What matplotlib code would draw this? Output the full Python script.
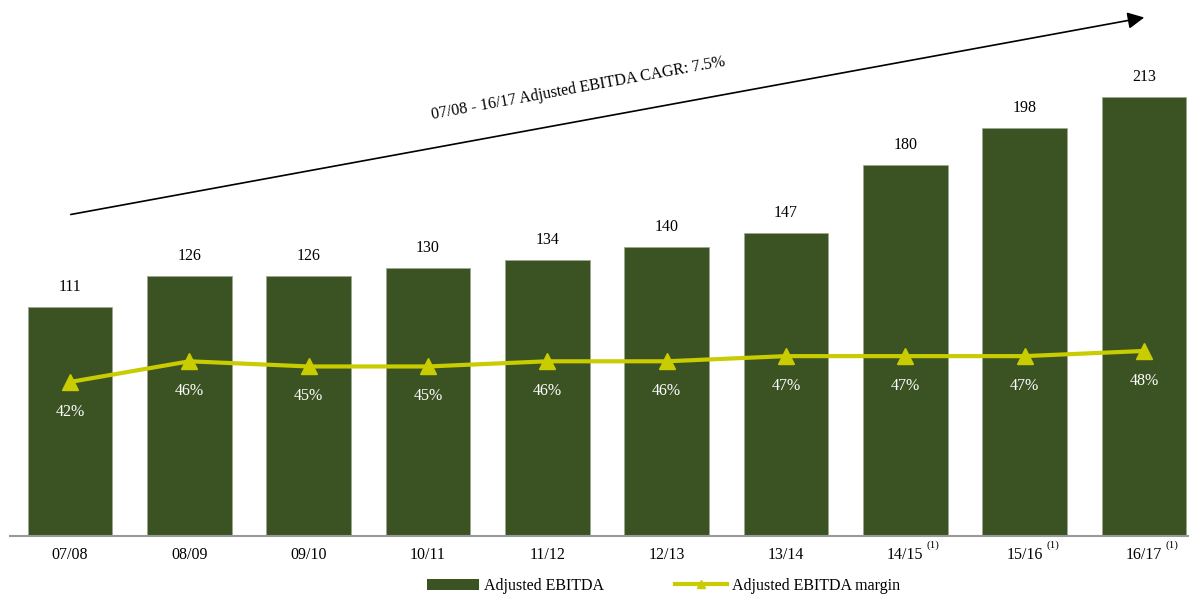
import numpy as np
import matplotlib.pyplot as plt
from matplotlib.lines import Line2D
from matplotlib.patches import Patch, FancyArrowPatch

plt.rcParams['font.family'] = ['Liberation Serif', 'DejaVu Serif']

# data
years = ["07/08", "08/09", "09/10", "10/11", "11/12", "12/13", "13/14", "14/15", "15/16", "16/17"]
ebitda = [111, 126, 126, 130, 134, 140, 147, 180, 198, 213]
margin = [42, 46, 45, 45, 46, 46, 47, 47, 47, 48]
footnote = [False] * 7 + [True] * 3

bar_col = "#3b5323"
line_col = "#c8cc00"

fig = plt.figure(figsize=(11.89, 5.95), dpi=100)
ax = fig.add_axes([10 / 1189, 59 / 595, 1179 / 1189, 536 / 595])
x = np.arange(len(years))

ax.bar(x, ebitda, width=0.71, color=bar_col, edgecolor="#9aa88f", linewidth=0.5, zorder=2)
for xi, v in zip(x, ebitda):
    ax.text(xi, v + 9.7, str(v), ha="center", va="center", fontsize=11.5)
ax.set_xlim(-0.503, 9.378)
ax.set_ylim(0, 260)

for s in ["top", "right", "left"]:
    ax.spines[s].set_visible(False)
ax.spines["bottom"].set_color("#999999")
ax.spines["bottom"].set_linewidth(1.5)
ax.set_yticks([])
ax.set_xticks(x)
ax.set_xticklabels(years, fontsize=11.5)
ax.tick_params(axis="x", length=0, pad=8)
for xi, f in zip(x, footnote):
    if f:
        ax.text(xi + 0.235, -0.009, "(1)", transform=ax.get_xaxis_transform(),
                ha="center", va="top", fontsize=8)

# margin on secondary axis
ax2 = ax.twinx()
ax2.set_ylim(12.2, 115.9)
ax2.axis("off")
ax2.plot(x, margin, color=line_col, lw=3, marker="^", markersize=11, zorder=3)
for xi, m in zip(x, margin):
    ax2.text(xi, m - 5.8, f"{m}%", ha="center", va="center", color="white", fontsize=11.5)

# CAGR arrow
fig.patches.append(FancyArrowPatch(
    (68 / 1189, 1 - 215 / 595), (1147 / 1189, 1 - 17 / 595),
    transform=fig.transFigure, arrowstyle="-|>", mutation_scale=25,
    color="black", lw=1.2))
fig.text(578 / 1189, 1 - 88 / 595, "07/08 - 16/17 Adjusted EBITDA CAGR: 7.5%",
         rotation=10.3, ha="center", va="center", fontsize=11.5,
         rotation_mode="anchor")

handles = [Patch(facecolor=bar_col, label="Adjusted EBITDA"),
           Line2D([0], [0], color=line_col, lw=3, marker="^", markersize=6,
                  label="Adjusted EBITDA margin")]
fig.legend(handles=handles, loc="center", bbox_to_anchor=(0.558, 9 / 595),
           ncol=2, frameon=False, fontsize=11.5, handlelength=3.3,
           columnspacing=4.4, handletextpad=0.3)

fig.savefig("out.png", dpi=100)
